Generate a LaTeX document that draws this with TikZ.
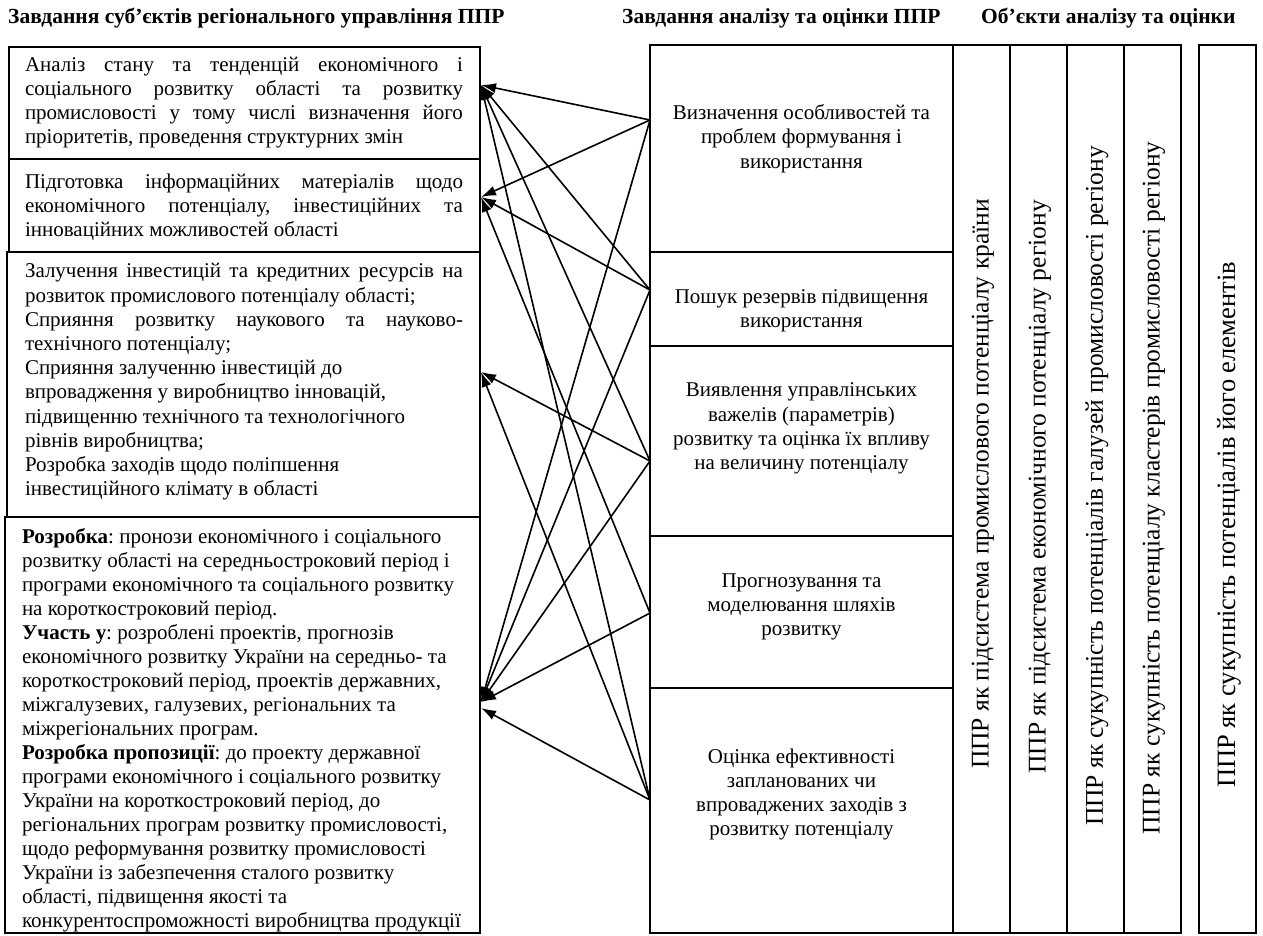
\documentclass[tikz,border=0pt]{standalone}
\usepackage{fontspec}
\setmainfont{Liberation Serif}
\usetikzlibrary{arrows.meta}
\setlength{\parindent}{0pt}
\newcommand\nsp{\spaceskip=0pt\xspaceskip=0pt\relax}
\newcommand\jl[1]{\makebox[438pt][s]{\nsp\strut#1}}
\begin{document}
\frenchspacing
\begin{tikzpicture}[x=1pt,y=-1pt,
  box/.style={draw, line width=1.5pt, inner sep=0pt, outer sep=0pt},
  hd/.style={font=\fontsize{21.5}{24}\selectfont\bfseries, inner sep=0pt, anchor=west},
  ltext/.style={font=\fontsize{21}{24.2}\selectfont, inner sep=0pt, align=left},
  mtext/.style={font=\fontsize{21}{24.2}\selectfont, inner sep=0pt, align=center},
  vtext/.style={font=\fontsize{25.5}{28}\selectfont, inner sep=0pt, rotate=90},
  conn/.style={line width=1.6pt, -{Latex[length=15pt,width=10pt]}}]
\useasboundingbox (0,0) rectangle (1263,935);
% headers
\node[hd] (h1) at (8,18) {Завдання суб’єктів регіонального управління ППР};
\node[hd] (h2) at (622,18) {Завдання аналізу та оцінки ППР};
\node[hd] (h3) at (981,18) {Об’єкти аналізу та оцінки};
% left boxes
\node[box, minimum width=471pt, minimum height=112pt] (L1) at (244.5,103) {};
\node[box, minimum width=471pt, minimum height=93pt] (L2) at (244.5,205.5) {};
\node[box, minimum width=473pt, minimum height=265pt] (L3) at (243.5,384.5) {};
\node[box, minimum width=475pt, minimum height=416pt] (L4) at (242.5,725) {};
\node[ltext, text width=438pt] (L1t) at (244,102.6) {\nsp
\jl{Аналіз стану та тенденцій економічного і}\\
\jl{соціального розвитку області та розвитку}\\
\jl{промисловості у тому числі визначення його}\\
\strut пріоритетів, проведення структурних змін};
\node[ltext, text width=438pt] (L2t) at (244,207.5) {\nsp
\jl{Підготовка інформаційних матеріалів щодо}\\
\jl{економічного потенціалу, інвестиційних та}\\
\strut інноваційних можливостей області};
\node[ltext, text width=438pt] (L3t) at (244,382) {\nsp
\jl{Залучення інвестицій та кредитних ресурсів на}\\
\strut розвиток промислового потенціалу області;\\
\jl{Сприяння розвитку наукового та науково-}\\
\strut технічного потенціалу;\\
\strut Сприяння залученню інвестицій до\\
\strut впровадження у виробництво інновацій,\\
\strut підвищенню технічного та технологічного\\
\strut рівнів виробництва;\\
\strut Розробка заходів щодо поліпшення\\
\strut інвестиційного клімату в області};
\node[ltext, text width=445pt, font=\fontsize{21}{24}\selectfont] (L4t) at (244.5,730.5) {\nsp
\strut\textbf{Розробка}: пронози економічного і соціального\\
\strut розвитку області на середньостроковий період і\\
\strut програми економічного та соціального розвитку\\
\strut на короткостроковий період.\\
\strut\textbf{Участь у}: розроблені проектів, прогнозів\\
\strut економічного розвитку України на середньо- та\\
\strut короткостроковий період, проектів державних,\\
\strut міжгалузевих, галузевих, регіональних та\\
\strut міжрегіональних програм.\\
\strut\textbf{Розробка пропозиції}: до проекту державної\\
\strut програми економічного і соціального розвитку\\
\strut України на короткостроковий період, до\\
\strut регіональних програм розвитку промисловості,\\
\strut щодо реформування розвитку промисловості\\
\strut України із забезпечення сталого розвитку\\
\strut області, підвищення якості та\\
\strut конкурентоспроможності виробництва продукції};
% middle boxes
\node[box, minimum width=303pt, minimum height=207pt] (M1) at (801.5,148.5) {};
\node[box, minimum width=303pt, minimum height=94pt] (M2) at (801.5,299) {};
\node[box, minimum width=303pt, minimum height=190pt] (M3) at (801.5,441) {};
\node[box, minimum width=303pt, minimum height=152pt] (M4) at (801.5,612) {};
\node[box, minimum width=303pt, minimum height=245pt] (M5) at (801.5,810.5) {};
\node[mtext] (M1t) at (801.5,139) {\nsp\strut Визначення особливостей та\\\strut проблем формування і\\\strut використання};
\node[mtext] (M2t) at (801.5,311) {\nsp\strut Пошук резервів підвищення\\\strut використання};
\node[mtext] (M3t) at (801.5,428.3) {\nsp\strut Виявлення управлінських\\\strut важелів (параметрів)\\\strut розвитку та оцінка їх впливу\\\strut на величину потенціалу};
\node[mtext] (M4t) at (801.5,606.7) {\nsp\strut Прогнозування та\\\strut моделювання шляхів\\\strut розвитку};
\node[mtext] (M5t) at (801.5,794.6) {\nsp\strut Оцінка ефективності\\\strut запланованих чи\\\strut впроваджених заходів з\\\strut розвитку потенціалу};
% right columns
\node[box, minimum width=57pt, minimum height=888pt] (R1) at (981.5,489) {};
\node[box, minimum width=57pt, minimum height=888pt] (R2) at (1038.5,489) {};
\node[box, minimum width=57pt, minimum height=888pt] (R3) at (1095.5,489) {};
\node[box, minimum width=57pt, minimum height=888pt] (R4) at (1152.5,489) {};
\node[box, minimum width=57pt, minimum height=888pt] (R5) at (1227.5,489) {};
\node[vtext] (R1t) at (983,484) {ППР як підсистема промислового потенціалу країни};
\node[vtext] (R2t) at (1040,487) {ППР як підсистема економічного потенціалу регіону};
\node[vtext] (R3t) at (1097,486) {ППР як сукупність потенціалів галузей промисловості регіону};
\node[vtext] (R4t) at (1154,488) {ППР як сукупність потенціалу кластерів промисловості регіону};
\node[vtext, font=\fontsize{26.5}{30}\selectfont] (R5t) at (1229,525) {ППР як сукупність потенціалів його елементів};
% connector endpoints
\coordinate (a1) at (481,85);
\coordinate (a2) at (481,197);
\coordinate (a3) at (481,372);
\coordinate (a4) at (481,702);
\coordinate (a4b) at (481,708);
\coordinate (s1) at (650,120);
\coordinate (s2) at (650,290);
\coordinate (s3) at (650,461);
\coordinate (s4) at (650,613);
\coordinate (s5) at (650,800);
\draw[conn] (s1) -- (a1);
\draw[conn] (s1) -- (a2);
\draw[conn] (s1) -- (a4);
\draw[conn] (s2) -- (a1);
\draw[conn] (s2) -- (a2);
\draw[conn] (s2) -- (a4);
\draw[conn] (s3) -- (a1);
\draw[conn] (s3) -- (a3);
\draw[conn] (s3) -- (a4);
\draw[conn] (s4) -- (a2);
\draw[conn] (s4) -- (a4);
\draw[conn] (s5) -- (a1);
\draw[conn] (s5) -- (a3);
\draw[conn] (s5) -- (a4b);
\end{tikzpicture}
\end{document}
